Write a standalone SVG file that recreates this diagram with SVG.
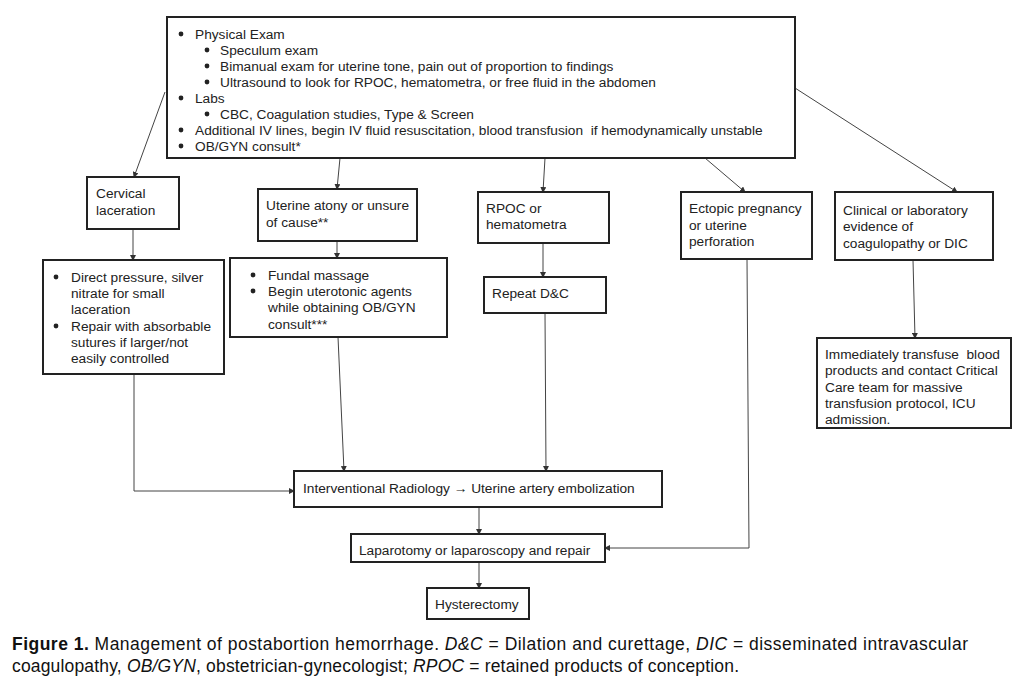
<svg xmlns="http://www.w3.org/2000/svg" width="1023" height="686" viewBox="0 0 1023 686">
<defs>
<marker id="arr" markerWidth="6" markerHeight="6" refX="5" refY="3" orient="auto" markerUnits="userSpaceOnUse">
<path d="M0,0 L6,3 L0,6 z" fill="#333"/>
</marker>
<style>
.box{fill:#fff;stroke:#222;stroke-width:2}
.t{font-family:"Liberation Sans",Arial,sans-serif;font-size:13.7px;fill:#222;dominant-baseline:central;white-space:pre}
.c{fill:none;stroke:#444;stroke-width:1;marker-end:url(#arr)}
.cap{font-family:"Liberation Sans",Arial,sans-serif;font-size:17.5px;fill:#111;dominant-baseline:central}
</style>
</defs>
<rect width="1023" height="686" fill="#fff"/>
<g id="connectors">
<path class="c" d="M165,92 L134,177"/>
<path class="c" d="M340,158 L337,189"/>
<path class="c" d="M545,158 L543,192"/>
<path class="c" d="M705,158 L745,192"/>
<path class="c" d="M795,88 L957,192"/>
<path class="c" d="M133,229 L133,260"/>
<path class="c" d="M337,241 L337,258"/>
<path class="c" d="M543,243 L543,277"/>
<path class="c" d="M913,260 L915,338"/>
<path class="c" d="M134,374 L134,491 L294,491"/>
<path class="c" d="M338,337 L344,471"/>
<path class="c" d="M545,313 L546,471"/>
<path class="c" d="M479,507 L479,534"/>
<path class="c" d="M479,562 L479,588"/>
<path class="c" d="M747,259 L749,548 L605,548"/>
</g>
<g id="top">
<rect class="box" x="167" y="17" width="628" height="141"/>
<g class="t">
<circle cx="181" cy="34" r="2.4" fill="#222"/><text x="195" y="34">Physical Exam</text>
<circle cx="207" cy="50" r="2.4" fill="#222"/><text x="220" y="50">Speculum exam</text>
<circle cx="207" cy="66" r="2.4" fill="#222"/><text x="220" y="66">Bimanual exam for uterine tone, pain out of proportion to findings</text>
<circle cx="207" cy="82" r="2.4" fill="#222"/><text x="220" y="82">Ultrasound to look for RPOC, hematometra, or free fluid in the abdomen</text>
<circle cx="181" cy="98" r="2.4" fill="#222"/><text x="195" y="98">Labs</text>
<circle cx="207" cy="114" r="2.4" fill="#222"/><text x="220" y="114">CBC, Coagulation studies, Type &amp; Screen</text>
<circle cx="181" cy="130" r="2.4" fill="#222"/><text x="195" y="130" xml:space="preserve">Additional IV lines, begin IV fluid resuscitation, blood transfusion  if hemodynamically unstable</text>
<circle cx="181" cy="146" r="2.4" fill="#222"/><text x="195" y="146">OB/GYN consult*</text>
</g>
</g>
<g id="cervical">
<rect class="box" x="87" y="177" width="92" height="52"/>
<text class="t" x="96" y="193">Cervical</text>
<text class="t" x="96" y="210">laceration</text>
</g>
<g id="direct">
<rect class="box" x="43" y="260" width="181" height="114"/>
<circle cx="56" cy="277" r="2.4" fill="#222"/>
<text class="t" x="71" y="277">Direct pressure, silver</text>
<text class="t" x="71" y="293">nitrate for small</text>
<text class="t" x="71" y="309">laceration</text>
<circle cx="56" cy="326" r="2.4" fill="#222"/>
<text class="t" x="71" y="326">Repair with absorbable</text>
<text class="t" x="71" y="342">sutures if larger/not</text>
<text class="t" x="71" y="358">easily controlled</text>
</g>
<g id="atony">
<rect class="box" x="258" y="189" width="159" height="52"/>
<text class="t" x="266" y="205">Uterine atony or unsure</text>
<text class="t" x="266" y="222">of cause**</text>
</g>
<g id="fundal">
<rect class="box" x="230" y="258" width="217" height="79"/>
<circle cx="253" cy="275" r="2.4" fill="#222"/>
<text class="t" x="268" y="275">Fundal massage</text>
<circle cx="253" cy="291" r="2.4" fill="#222"/>
<text class="t" x="268" y="291">Begin uterotonic agents</text>
<text class="t" x="268" y="307">while obtaining OB/GYN</text>
<text class="t" x="268" y="324">consult***</text>
</g>
<g id="rpoc">
<rect class="box" x="478" y="192" width="131" height="51"/>
<text class="t" x="486" y="208">RPOC or</text>
<text class="t" x="486" y="224">hematometra</text>
</g>
<g id="dc">
<rect class="box" x="484" y="277" width="122" height="36"/>
<text class="t" x="492" y="293">Repeat D&amp;C</text>
</g>
<g id="ectopic">
<rect class="box" x="681" y="192" width="131" height="67"/>
<text class="t" x="689" y="208">Ectopic pregnancy</text>
<text class="t" x="689" y="225">or uterine</text>
<text class="t" x="689" y="241">perforation</text>
</g>
<g id="coag">
<rect class="box" x="835" y="192" width="158" height="68"/>
<text class="t" x="843" y="210">Clinical or laboratory</text>
<text class="t" x="843" y="226">evidence of</text>
<text class="t" x="843" y="243">coagulopathy or DIC</text>
</g>
<g id="transfuse">
<rect class="box" x="817" y="338" width="194" height="90"/>
<text class="t" x="825" y="354" xml:space="preserve">Immediately transfuse  blood</text>
<text class="t" x="825" y="370">products and contact Critical</text>
<text class="t" x="825" y="387">Care team for massive</text>
<text class="t" x="825" y="403">transfusion protocol, ICU</text>
<text class="t" x="825" y="419">admission.</text>
</g>
<g id="ir">
<rect class="box" x="294" y="471" width="368" height="36"/>
<text class="t" x="303" y="488">Interventional Radiology → Uterine artery embolization</text>
</g>
<g id="lap">
<rect class="box" x="351" y="534" width="254" height="28"/>
<text class="t" x="359" y="550">Laparotomy or laparoscopy and repair</text>
</g>
<g id="hyst">
<rect class="box" x="427" y="588" width="102" height="31"/>
<text class="t" x="435" y="604">Hysterectomy</text>
</g>
<g id="caption">
<text class="cap" x="12" y="644" textLength="956" lengthAdjust="spacing"><tspan font-weight="bold">Figure 1.</tspan>  Management of postabortion hemorrhage. <tspan font-style="italic">D&amp;C</tspan> = Dilation and curettage, <tspan font-style="italic">DIC</tspan> = disseminated intravascular</text>
<text class="cap" x="12" y="666" textLength="727" lengthAdjust="spacing">coagulopathy, <tspan font-style="italic">OB/GYN</tspan>, obstetrician-gynecologist; <tspan font-style="italic">RPOC</tspan> = retained products of conception.</text>
</g>
</svg>
